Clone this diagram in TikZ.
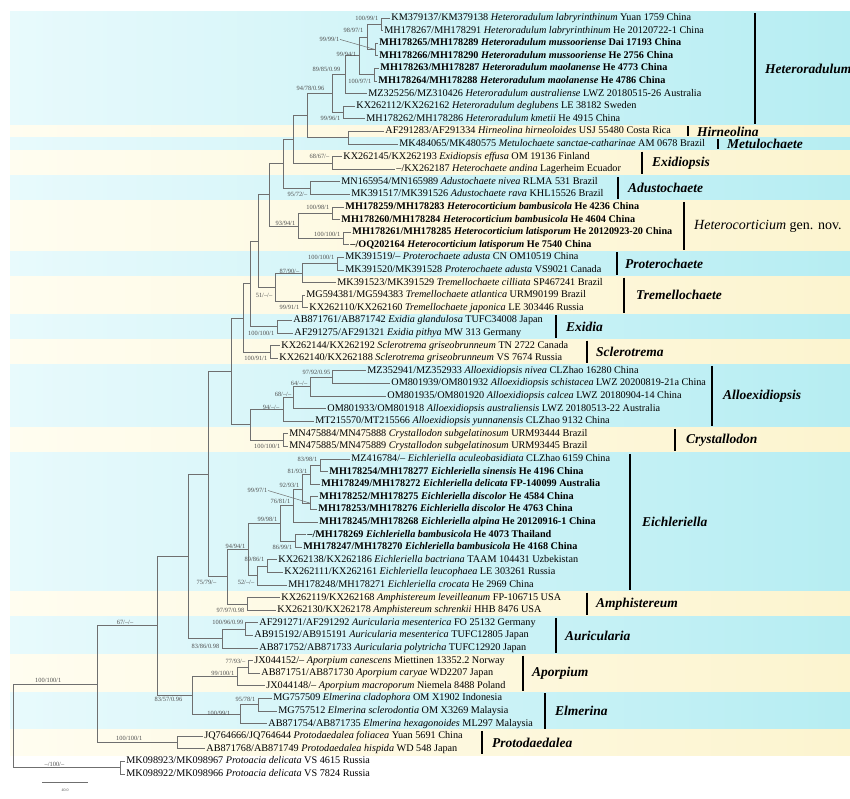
\documentclass[tikz,border=0pt]{standalone}
\usepackage{fontspec}
\setmainfont{Liberation Serif}
\definecolor{branchgray}{HTML}{6F6F6F}
\definecolor{bootgray}{HTML}{505050}
\definecolor{blueL}{HTML}{E8FAFC}
\definecolor{blueR}{HTML}{B6EDF2}
\definecolor{yelL}{HTML}{FFFDF0}
\definecolor{yelR}{HTML}{FCF4CF}
\tikzset{
  br/.style={draw=branchgray,line width=0.75pt},
  leaf/.style={anchor=west,inner xsep=1.2pt,inner ysep=0pt,text height=7pt,text depth=2pt,font=\fontsize{10.2}{12}\selectfont},
  bleaf/.style={leaf,font=\fontsize{10.2}{12}\selectfont\bfseries},
  bs/.style={anchor=east,inner sep=0.6pt,text=bootgray,font=\fontsize{6.4}{7}\selectfont},
  clade/.style={anchor=west,inner sep=0pt,font=\fontsize{13.5}{15}\selectfont\bfseries\itshape},
  cbar/.style={line width=2.4pt},
  blueband/.style={left color=blueL,right color=blueR},
  yelband/.style={left color=yelL,right color=yelR}
}
\begin{document}
\begin{tikzpicture}[x=1pt,y=-12.6pt]
\useasboundingbox (0pt,0pt) rectangle (850pt,-798pt);
\begin{scope}[yshift=-18pt]

% bands, one row = one taxon
\shade[blueband] (10,-0.5) rectangle (850,8.5);
\shade[yelband] (10,8.5) rectangle (850,9.5);
\shade[blueband] (10,9.5) rectangle (850,10.5);
\shade[yelband] (10,10.5) rectangle (850,12.5);
\shade[blueband] (10,12.5) rectangle (850,14.5);
\shade[yelband] (10,14.5) rectangle (850,18.5);
\shade[blueband] (10,18.5) rectangle (850,20.5);
\shade[yelband] (10,20.5) rectangle (850,23.5);
\shade[blueband] (10,23.5) rectangle (850,25.5);
\shade[yelband] (10,25.5) rectangle (850,27.5);
\shade[blueband] (10,27.5) rectangle (850,32.5);
\shade[yelband] (10,32.5) rectangle (850,34.5);
\shade[blueband] (10,34.5) rectangle (850,45.5);
\shade[yelband] (10,45.5) rectangle (850,47.5);
\shade[blueband] (10,47.5) rectangle (850,50.5);
\shade[yelband] (10,50.5) rectangle (850,53.5);
\shade[blueband] (10,53.5) rectangle (850,56.5);
\shade[yelband] (10,56.5) rectangle (850,58.5);

% leaves
\node[leaf] (l0) at (390,0) {KM379137/KM379138 \textit{Heteroradulum labryrinthinum} Yuan 1759 China};
\node[leaf] (l1) at (383,1) {MH178267/MH178291 \textit{Heteroradulum labryrinthinum} He 20120722-1 China};
\node[bleaf] (l2) at (378,2) {MH178265/MH178289 \textit{Heteroradulum mussooriense} Dai 17193 China};
\node[bleaf] (l3) at (378,3) {MH178266/MH178290 \textit{Heteroradulum mussooriense} He 2756 China};
\node[bleaf] (l4) at (379,4) {MH178263/MH178287 \textit{Heteroradulum maolanense} He 4773 China};
\node[bleaf] (l5) at (377,5) {MH178264/MH178288 \textit{Heteroradulum maolanense} He 4786 China};
\node[leaf] (l6) at (367,6) {MZ325256/MZ310426 \textit{Heteroradulum australiense} LWZ 20180515-26 Australia};
\node[leaf] (l7) at (355,7) {KX262112/KX262162 \textit{Heteroradulum deglubens} LE 38182 Sweden};
\node[leaf] (l8) at (365,8) {MH178262/MH178286 \textit{Heteroradulum kmetii} He 4915 China};
\node[leaf] (l9) at (384,9) {AF291283/AF291334 \textit{Hirneolina hirneoloides} USJ 55480 Costa Rica};
\node[leaf] (l10) at (398,10) {MK484065/MK480575 \textit{Metulochaete sanctae-catharinae} AM 0678 Brazil};
\node[leaf] (l11) at (342,11) {KX262145/KX262193 \textit{Exidiopsis effusa} OM 19136 Finland};
\node[leaf] (l12) at (395,12) {–/KX262187 \textit{Heterochaete andina} Lagerheim Ecuador};
\node[leaf] (l13) at (340,13) {MN165954/MN165989 \textit{Adustochaete nivea} RLMA 531 Brazil};
\node[leaf] (l14) at (350,14) {MK391517/MK391526 \textit{Adustochaete rava} KHL15526 Brazil};
\node[bleaf] (l15) at (344,15) {MH178259/MH178283 \textit{Heterocorticium bambusicola} He 4236 China};
\node[bleaf] (l16) at (340,16) {MH178260/MH178284 \textit{Heterocorticium bambusicola} He 4604 China};
\node[bleaf] (l17) at (351,17) {MH178261/MH178285 \textit{Heterocorticium latisporum} He 20120923-20 China};
\node[bleaf] (l18) at (349,18) {–/OQ202164 \textit{Heterocorticium latisporum} He 7540 China};
\node[leaf] (l19) at (344,19) {MK391519/– \textit{Proterochaete adusta} CN OM10519 China};
\node[leaf] (l20) at (344,20) {MK391520/MK391528 \textit{Proterochaete adusta} VS9021 Canada};
\node[leaf] (l21) at (336,21) {MK391523/MK391529 \textit{Tremellochaete cilliata} SP467241 Brazil};
\node[leaf] (l22) at (305,22) {MG594381/MG594383 \textit{Tremellochaete atlantica} URM90199 Brazil};
\node[leaf] (l23) at (308,23) {KX262110/KX262160 \textit{Tremellochaete japonica} LE 303446 Russia};
\node[leaf] (l24) at (292,24) {AB871761/AB871742 \textit{Exidia glandulosa} TUFC34008 Japan};
\node[leaf] (l25) at (293,25) {AF291275/AF291321 \textit{Exidia pithya} MW 313 Germany};
\node[leaf] (l26) at (280,26) {KX262144/KX262192 \textit{Sclerotrema griseobrunneum} TN 2722 Canada};
\node[leaf] (l27) at (278,27) {KX262140/KX262188 \textit{Sclerotrema griseobrunneum} VS 7674 Russia};
\node[leaf] (l28) at (366,28) {MZ352941/MZ352933 \textit{Alloexidiopsis nivea} CLZhao 16280 China};
\node[leaf] (l29) at (390,29) {OM801939/OM801932 \textit{Alloexidiopsis schistacea} LWZ 20200819-21a China};
\node[leaf] (l30) at (386,30) {OM801935/OM801920 \textit{Alloexidiopsis calcea} LWZ 20180904-14 China};
\node[leaf] (l31) at (326,31) {OM801933/OM801918 \textit{Alloexidiopsis australiensis} LWZ 20180513-22 Australia};
\node[leaf] (l32) at (314,32) {MT215570/MT215566 \textit{Alloexidiopsis yunnanensis} CLZhao 9132 China};
\node[leaf] (l33) at (288,33) {MN475884/MN475888 \textit{Crystallodon subgelatinosum} URM93444 Brazil};
\node[leaf] (l34) at (288,34) {MN475885/MN475889 \textit{Crystallodon subgelatinosum} URM93445 Brazil};
\node[leaf] (l35) at (350,35) {MZ416784/– \textit{Eichleriella aculeobasidiata} CLZhao 6159 China};
\node[bleaf] (l36) at (328,36) {MH178254/MH178277 \textit{Eichleriella sinensis} He 4196 China};
\node[bleaf] (l37) at (320,37) {MH178249/MH178272 \textit{Eichleriella delicata} FP-140099 Australia};
\node[bleaf] (l38) at (318,38) {MH178252/MH178275 \textit{Eichleriella discolor} He 4584 China};
\node[bleaf] (l39) at (317,39) {MH178253/MH178276 \textit{Eichleriella discolor} He 4763 China};
\node[bleaf] (l40) at (318,40) {MH178245/MH178268 \textit{Eichleriella alpina} He 20120916-1 China};
\node[bleaf] (l41) at (306,41) {–/MH178269 \textit{Eichleriella bambusicola} He 4073 Thailand};
\node[bleaf] (l42) at (302,42) {MH178247/MH178270 \textit{Eichleriella bambusicola} He 4168 China};
\node[leaf] (l43) at (277,43) {KX262138/KX262186 \textit{Eichleriella bactriana} TAAM 104431 Uzbekistan};
\node[leaf] (l44) at (283,44) {KX262111/KX262161 \textit{Eichleriella leucophaea} LE 303261 Russia};
\node[leaf] (l45) at (287,45) {MH178248/MH178271 \textit{Eichleriella crocata} He 2969 China};
\node[leaf] (l46) at (280,46) {KX262119/KX262168 \textit{Amphistereum leveilleanum} FP-106715 USA};
\node[leaf] (l47) at (276,47) {KX262130/KX262178 \textit{Amphistereum schrenkii} HHB 8476 USA};
\node[leaf] (l48) at (258,48) {AF291271/AF291292 \textit{Auricularia mesenterica} FO 25132 Germany};
\node[leaf] (l49) at (253,49) {AB915192/AB915191 \textit{Auricularia mesenterica} TUFC12805 Japan};
\node[leaf] (l50) at (258,50) {AB871752/AB871733 \textit{Auricularia polytricha} TUFC12920 Japan};
\node[leaf] (l51) at (253,51) {JX044152/– \textit{Aporpium canescens} Miettinen 13352.2 Norway};
\node[leaf] (l52) at (260,52) {AB871751/AB871730 \textit{Aporpium caryae} WD2207 Japan};
\node[leaf] (l53) at (265,53) {JX044148/– \textit{Aporpium macroporum} Niemela 8488 Poland};
\node[leaf] (l54) at (272,54) {MG757509 \textit{Elmerina cladophora} OM X1902 Indonesia};
\node[leaf] (l55) at (277,55) {MG757512 \textit{Elmerina sclerodontia} OM X3269 Malaysia};
\node[leaf] (l56) at (267,56) {AB871754/AB871735 \textit{Elmerina hexagonoides} ML297 Malaysia};
\node[leaf] (l57) at (203,57) {JQ764666/JQ764644 \textit{Protodaedalea foliacea} Yuan 5691 China};
\node[leaf] (l58) at (205,58) {AB871768/AB871749 \textit{Protodaedalea hispida} WD 548 Japan};
\node[leaf] (l59) at (125,59) {MK098923/MK098967 \textit{Protoacia delicata} VS 4615 Russia};
\node[leaf] (l60) at (125,60) {MK098922/MK098966 \textit{Protoacia delicata} VS 7824 Russia};

% internal nodes
\coordinate (hA1) at (381,0.5);
\coordinate (hA2) at (375,2.5);
\coordinate (hA3) at (367,1.5);
\coordinate (hA4) at (374,4.5);
\coordinate (hA5) at (359,3);
\coordinate (hA6) at (345,4.5);
\coordinate (hK) at (343,7.5);
\coordinate (n332) at (332,6);
\coordinate (hm) at (348,9.5);
\coordinate (n307) at (307,7.75);
\coordinate (exi) at (332,11.5);
\coordinate (n293) at (293,9.625);
\coordinate (adu) at (310,13.5);
\coordinate (n283) at (283,11.5625);
\coordinate (hb) at (332,15.5);
\coordinate (hl) at (343,17.5);
\coordinate (hc) at (298,16.5);
\coordinate (n269) at (269,14.03);
\coordinate (pro) at (337,19.5);
\coordinate (n87) at (302,20.25);
\coordinate (tre) at (302,22.5);
\coordinate (n51) at (275,21.375);
\coordinate (n258) at (258,17.70);
\coordinate (exd) at (277,24.5);
\coordinate (n250) at (250,21.10);
\coordinate (scl) at (270,26.5);
\coordinate (n243) at (243,23.80);
\coordinate (al97) at (332,28.5);
\coordinate (al64) at (310,29.25);
\coordinate (al68) at (293,30.125);
\coordinate (al94) at (283,31.0625);
\coordinate (cry) at (283,33.5);
\coordinate (n250b) at (250,32.28);
\coordinate (n231) at (231,28.04);
\coordinate (e83) at (320,35.5);
\coordinate (e81) at (310,36.25);
\coordinate (e99) at (310,38.5);
\coordinate (e92) at (302,37.375);
\coordinate (e76) at (293,38.6875);
\coordinate (e86) at (295,41.5);
\coordinate (e99b) at (280,40.09);
\coordinate (e89) at (267,43.5);
\coordinate (e52) at (257,44.25);
\coordinate (e94) at (248,42.17);
\coordinate (amp) at (247,46.5);
\coordinate (n227) at (227,44.34);
\coordinate (n208) at (208,36.19);
\coordinate (au100) at (245,48.5);
\coordinate (au83) at (222,49.25);
\coordinate (n188) at (188,42.72);
\coordinate (ap77) at (248,51.5);
\coordinate (ap99) at (237,52.25);
\coordinate (el95) at (258,54.5);
\coordinate (el100) at (240,55.25);
\coordinate (n192) at (192,53.75);
\coordinate (n157) at (157,48.24);
\coordinate (pd) at (177,57.5);
\coordinate (n97) at (97,52.87);
\coordinate (pa) at (120,59.5);
\coordinate (root) at (13,56.18);

% branches
\begin{scope}[br]
  \draw (hA1) |- (l0.west);  \draw (hA1) |- (l1.west);
  \draw (hA2) |- (l2.west);  \draw (hA2) |- (l3.west);
  \draw (hA3) |- (hA1);      \draw (hA3) |- (hA2);
  \draw (hA4) |- (l4.west);  \draw (hA4) |- (l5.west);
  \draw (hA5) |- (hA3);      \draw (hA5) |- (hA4);
  \draw (hA6) |- (hA5);      \draw (hA6) |- (l6.west);
  \draw (hK) |- (l7.west);   \draw (hK) |- (l8.west);
  \draw (n332) |- (hA6);     \draw (n332) |- (hK);
  \draw (hm) |- (l9.west);   \draw (hm) |- (l10.west);
  \draw (n307) |- (n332);    \draw (n307) |- (hm);
  \draw (exi) |- (l11.west); \draw (exi) |- (l12.west);
  \draw (n293) |- (n307);    \draw (n293) |- (exi);
  \draw (adu) |- (l13.west); \draw (adu) |- (l14.west);
  \draw (n283) |- (n293);    \draw (n283) |- (adu);
  \draw (hb) |- (l15.west);  \draw (hb) |- (l16.west);
  \draw (hl) |- (l17.west);  \draw (hl) |- (l18.west);
  \draw (hc) |- (hb);        \draw (hc) |- (hl);
  \draw (n269) |- (n283);    \draw (n269) |- (hc);
  \draw (pro) |- (l19.west); \draw (pro) |- (l20.west);
  \draw (n87) |- (pro);      \draw (n87) |- (l21.west);
  \draw (tre) |- (l22.west); \draw (tre) |- (l23.west);
  \draw (n51) |- (n87);      \draw (n51) |- (tre);
  \draw (n258) |- (n269);    \draw (n258) |- (n51);
  \draw (exd) |- (l24.west); \draw (exd) |- (l25.west);
  \draw (n250) |- (n258);    \draw (n250) |- (exd);
  \draw (scl) |- (l26.west); \draw (scl) |- (l27.west);
  \draw (n243) |- (n250);    \draw (n243) |- (scl);
  \draw (al97) |- (l28.west); \draw (al97) |- (l29.west);
  \draw (al64) |- (al97);    \draw (al64) |- (l30.west);
  \draw (al68) |- (al64);    \draw (al68) |- (l31.west);
  \draw (al94) |- (al68);    \draw (al94) |- (l32.west);
  \draw (cry) |- (l33.west); \draw (cry) |- (l34.west);
  \draw (n250b) |- (al94);   \draw (n250b) |- (cry);
  \draw (n231) |- (n243);    \draw (n231) |- (n250b);
  \draw (e83) |- (l35.west); \draw (e83) |- (l36.west);
  \draw (e81) |- (e83);      \draw (e81) |- (l37.west);
  \draw (e99) |- (l38.west); \draw (e99) |- (l39.west);
  \draw (e92) |- (e81);      \draw (e92) |- (e99);
  \draw (e76) |- (e92);      \draw (e76) |- (l40.west);
  \draw (e86) |- (l41.west); \draw (e86) |- (l42.west);
  \draw (e99b) |- (e76);     \draw (e99b) |- (e86);
  \draw (e89) |- (l43.west); \draw (e89) |- (l44.west);
  \draw (e52) |- (e89);      \draw (e52) |- (l45.west);
  \draw (e94) |- (e99b);     \draw (e94) |- (e52);
  \draw (amp) |- (l46.west); \draw (amp) |- (l47.west);
  \draw (n227) |- (e94);     \draw (n227) |- (amp);
  \draw (n208) |- (n231);    \draw (n208) |- (n227);
  \draw (au100) |- (l48.west); \draw (au100) |- (l49.west);
  \draw (au83) |- (au100);   \draw (au83) |- (l50.west);
  \draw (n188) |- (n208);    \draw (n188) |- (au83);
  \draw (ap77) |- (l51.west); \draw (ap77) |- (l52.west);
  \draw (ap99) |- (ap77);    \draw (ap99) |- (l53.west);
  \draw (el95) |- (l54.west); \draw (el95) |- (l55.west);
  \draw (el100) |- (el95);   \draw (el100) |- (l56.west);
  \draw (n192) |- (ap99);    \draw (n192) |- (el100);
  \draw (n157) |- (n188);    \draw (n157) |- (n192);
  \draw (pd) |- (l57.west);  \draw (pd) |- (l58.west);
  \draw (n97) |- (n157);     \draw (n97) |- (pd);
  \draw (pa) |- (l59.west);  \draw (pa) |- (l60.west);
  \draw (root) |- (n97);     \draw (root) |- (pa);
\end{scope}

% support values
\node[bs] (b1) at (379,0) {100/99/1};
\node[bs] (b2) at (364,1) {98/97/1};
\node[bs] (b3) at (340,1.7) {99/99/1};
\draw[br,line width=0.5pt] (b3.east) -- (hA2);
\node[bs] (b4) at (357,2.9) {99/94/1};
\node[bs] (b5) at (372,5) {100/97/1};
\node[bs] (b6) at (341,4.05) {89/85/0.99};
\node[bs] (b7) at (325,5.6) {94/78/0.96};
\node[bs] (b8) at (341,8) {99/96/1};
\node[bs] (b9) at (330,11) {68/67/–};
\node[bs] (b10) at (308,14) {95/72/–};
\node[bs] (b11) at (330,15) {100/98/1};
\node[bs] (b12) at (296,16.3) {93/94/1};
\node[bs] (b13) at (341,17.2) {100/100/1};
\node[bs] (b14) at (335,19) {100/100/1};
\node[bs] (b15) at (300,20.1) {87/90/–};
\node[bs] (b16) at (273,22) {51/–/–};
\node[bs] (b17) at (300,23) {99/91/1};
\node[bs] (b18) at (275,25) {100/100/1};
\node[bs] (b19) at (268,27) {100/91/1};
\node[bs] (b20) at (331,28.1) {97/92/0.95};
\node[bs] (b21) at (308,29) {64/–/–};
\node[bs] (b22) at (292,29.9) {68/–/–};
\node[bs] (b23) at (280,30.9) {94/–/–};
\node[bs] (b24) at (281,34) {100/100/1};
\node[bs] (b25) at (318,35) {83/98/1};
\node[bs] (b26) at (308,36) {81/93/1};
\node[bs] (b27) at (300,37.1) {92/93/1};
\node[bs] (b28) at (268,37.5) {99/97/1};
\draw[br,line width=0.5pt] (b28.east) -- (e99);
\node[bs] (b29) at (291,38.4) {76/81/1};
\node[bs] (b30) at (278,39.8) {99/98/1};
\node[bs] (b31) at (293,42) {86/99/1};
\node[bs] (b32) at (246,41.9) {94/94/1};
\node[bs] (b33) at (265,43) {89/86/1};
\node[bs] (b34) at (255,44.8) {52/–/–};
\node[bs] (b35) at (217,44.8) {75/79/–};
\node[bs] (b36) at (245,47) {97/97/0.98};
\node[bs] (b37) at (244,48) {100/96/0.99};
\node[bs] (b38) at (220,49.9) {83/86/0.98};
\node[bs] (b39) at (134,48) {67/–/–};
\node[bs] (b40) at (246,51.1) {77/93/–};
\node[bs] (b41) at (235,52) {99/100/1};
\node[bs] (b42) at (183,54.1) {83/57/0.96};
\node[bs] (b43) at (256,54.1) {95/78/1};
\node[bs] (b44) at (231,55.2) {100/99/1};
\node[bs] (b45) at (143,57.2) {100/100/1};
\node[bs] (b46) at (62,52.6) {100/100/1};
\node[bs] (b47) at (65,59.2) {–/100/–};

% clade bars and names
\draw[cbar] (755,-0.4) -- (755,8.4);
\node[clade] (c1) at (765,4) {Heteroradulum};
\draw[cbar] (688,8.6) -- (688,9.4);
\node[clade] (c2) at (697,9) {Hirneolina};
\draw[cbar] (718,9.6) -- (718,10.4);
\node[clade] (c3) at (727,10) {Metulochaete};
\draw[cbar] (642,10.6) -- (642,12.4);
\node[clade] (c4) at (652,11.5) {Exidiopsis};
\draw[cbar] (618,12.6) -- (618,14.4);
\node[clade] (c5) at (628,13.5) {Adustochaete};
\draw[cbar] (684,14.6) -- (684,18.4);
\node[clade,font=\fontsize{14}{16}\selectfont] (c6) at (694,16.5) {\textit{Heterocorticium} gen. nov.};
\draw[cbar] (617,18.6) -- (617,20.4);
\node[clade] (c7) at (625,19.5) {Proterochaete};
\draw[cbar] (624,20.6) -- (624,23.4);
\node[clade] (c8) at (636,22) {Tremellochaete};
\draw[cbar] (556,23.6) -- (556,25.4);
\node[clade] (c9) at (566,24.5) {Exidia};
\draw[cbar] (587,25.6) -- (587,27.4);
\node[clade] (c10) at (596,26.5) {Sclerotrema};
\draw[cbar] (712,27.6) -- (712,32.4);
\node[clade] (c11) at (723,30) {Alloexidiopsis};
\draw[cbar] (675,32.6) -- (675,34.4);
\node[clade] (c12) at (686,33.5) {Crystallodon};
\draw[cbar] (630,34.6) -- (630,45.4);
\node[clade] (c13) at (642,40) {Eichleriella};
\draw[cbar] (587,45.6) -- (587,47.4);
\node[clade] (c14) at (596,46.5) {Amphistereum};
\draw[cbar] (556,47.6) -- (556,50.4);
\node[clade] (c15) at (565,49) {Auricularia};
\draw[cbar] (523,50.6) -- (523,53.4);
\node[clade] (c16) at (532,52) {Aporpium};
\draw[cbar] (545,53.6) -- (545,56.4);
\node[clade] (c17) at (555,55) {Elmerina};
\draw[cbar] (482,56.6) -- (482,58.4);
\node[clade] (c18) at (492,57.5) {Protodaedalea};
\end{scope}

% scale bar
\coordinate (sb1) at (42pt,-782pt);
\coordinate (sb2) at (88pt,-782pt);
\draw[br] (sb1) -- (sb2);
\node[font=\fontsize{4}{5}\selectfont,text=bootgray] (sbl) at (65pt,-790pt) {40.0};
\end{tikzpicture}
\end{document}
